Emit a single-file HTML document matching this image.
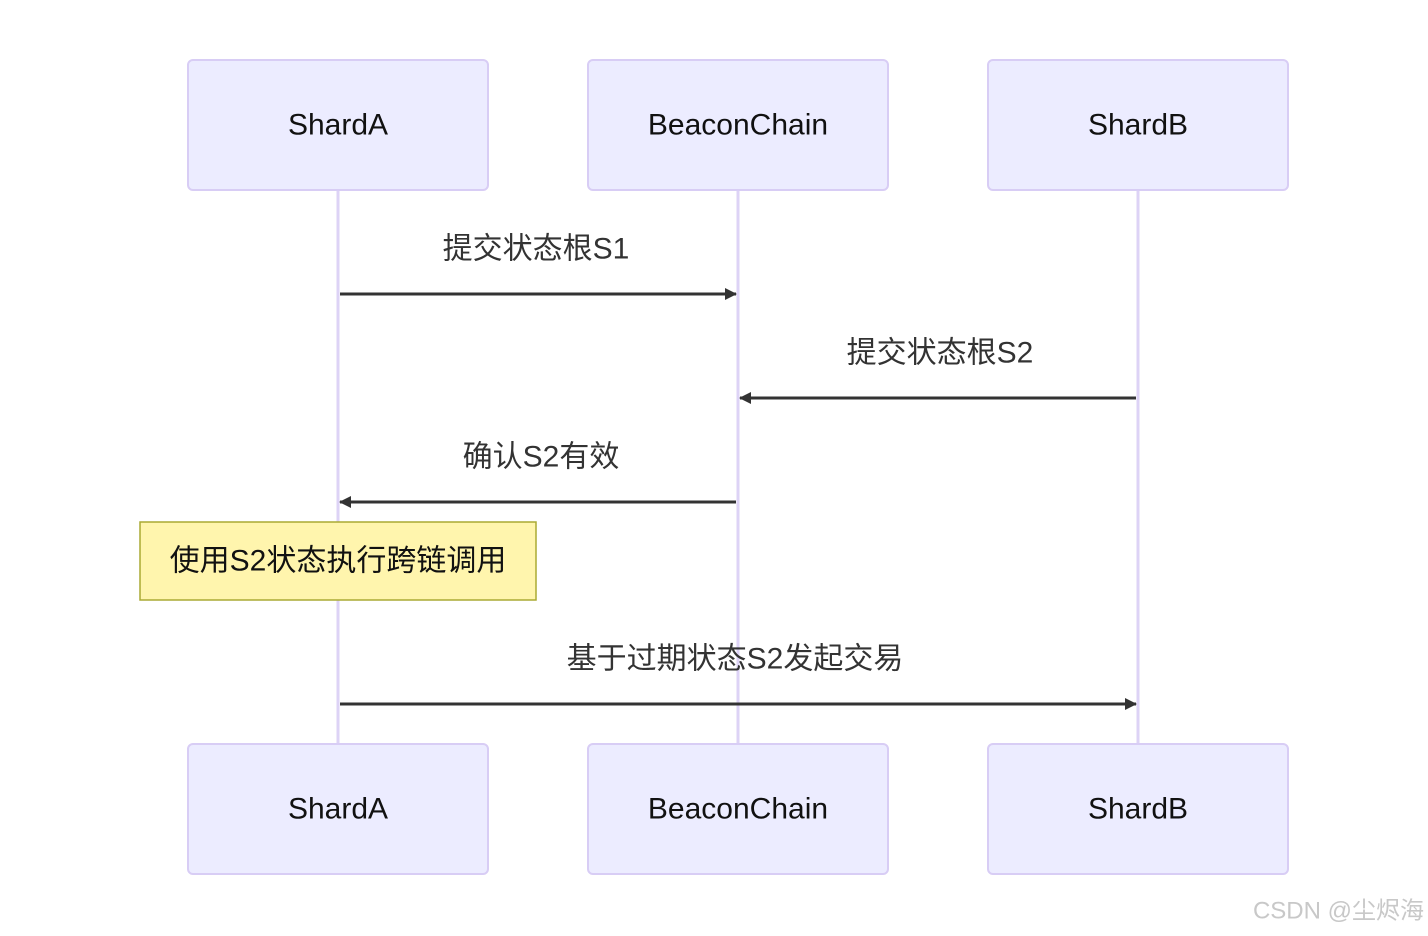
<!DOCTYPE html>
<html><head><meta charset="utf-8"><style>
html,body{margin:0;padding:0;background:#fff;width:1428px;height:936px;overflow:hidden}
text{font-family:"Liberation Sans","Noto Sans CJK SC",sans-serif}
</style></head><body>
<svg width="1428" height="936" xmlns="http://www.w3.org/2000/svg">
<defs><marker id="a" markerWidth="12" markerHeight="12" refX="11" refY="6" orient="auto" markerUnits="userSpaceOnUse"><path d="M0,0 L12,6 L0,12 Z" fill="#333"/></marker></defs>
<g stroke="#ddd3f6" stroke-width="3">
<line x1="338" y1="190" x2="338" y2="744"/>
<line x1="738" y1="190" x2="738" y2="744"/>
<line x1="1138" y1="190" x2="1138" y2="744"/>
</g>
<g fill="#ececff" stroke="#d8cdf5" stroke-width="2">
<rect x="188" y="60" width="300" height="130" rx="5"/>
<rect x="588" y="60" width="300" height="130" rx="5"/>
<rect x="988" y="60" width="300" height="130" rx="5"/>
<rect x="188" y="744" width="300" height="130" rx="5"/>
<rect x="588" y="744" width="300" height="130" rx="5"/>
<rect x="988" y="744" width="300" height="130" rx="5"/>
</g>
<g font-size="30" fill="#111" text-anchor="middle" dominant-baseline="central">
<text x="338" y="125">ShardA</text>
<text x="738" y="125">BeaconChain</text>
<text x="1138" y="125">ShardB</text>
<text x="338" y="809">ShardA</text>
<text x="738" y="809">BeaconChain</text>
<text x="1138" y="809">ShardB</text>
</g>
<g stroke="#333" stroke-width="3" marker-end="url(#a)">
<line x1="340" y1="294" x2="736" y2="294"/>
<line x1="1136" y1="398" x2="740" y2="398"/>
<line x1="736" y1="502" x2="340" y2="502"/>
<line x1="340" y1="704" x2="1136" y2="704"/>
</g>
<rect x="140" y="522" width="396" height="78" fill="#fff5ad" stroke="#aaaa33" stroke-width="1.5"/>
<g font-size="30" fill="#333" text-anchor="middle" dominant-baseline="central">
<text x="536" y="249">提交状态根S1</text>
<text x="940" y="353">提交状态根S2</text>
<text x="541" y="457">确认S2有效</text>
<text x="735" y="659">基于过期状态S2发起交易</text>
<text x="338" y="561" fill="#111">使用S2状态执行跨链调用</text>
</g>
<text x="1424" y="911" font-size="24" fill="#c8c8c8" text-anchor="end" dominant-baseline="central">CSDN @尘烬海</text>
</svg>
</body></html>
